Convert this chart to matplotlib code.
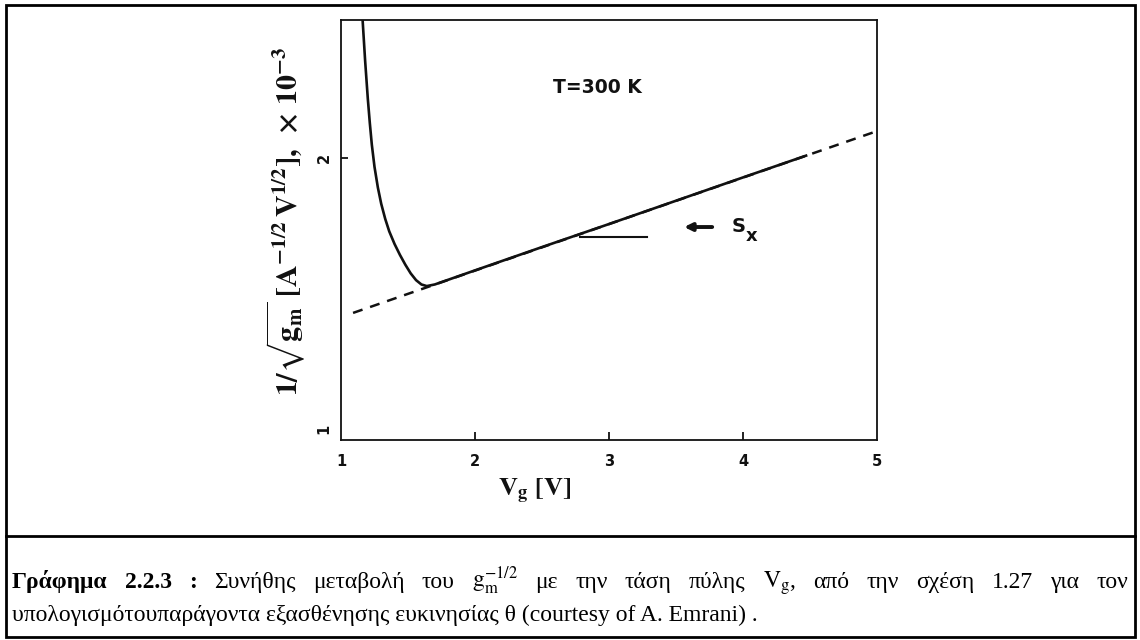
import matplotlib
matplotlib.use("Agg")
import matplotlib.pyplot as plt
from matplotlib.patches import Rectangle
from matplotlib.lines import Line2D

plt.rcParams['mathtext.fontset'] = 'stix'

# ---------------- data ----------------
vg_curve = [1.160, 1.170, 1.180, 1.190, 1.200, 1.215, 1.230, 1.250, 1.275, 1.300,
            1.330, 1.360, 1.400, 1.440, 1.480, 1.520, 1.560, 1.600, 1.640, 1.700,
            2.0, 2.5, 3.0, 3.5, 4.0, 4.48]
y_curve = [2.52, 2.44, 2.36, 2.29, 2.22, 2.13, 2.05, 1.968, 1.892, 1.832,
           1.776, 1.730, 1.683, 1.643, 1.607, 1.575, 1.550, 1.534, 1.528, 1.534,
           1.586, 1.672, 1.757, 1.843, 1.929, 2.011]
vg_fit = [1.09, 5.0]
y_fit = [1.429, 2.10]
vg_sx = [2.78, 3.28]
y_sx = [1.709, 1.709]
x_ticks = [2, 3, 4]
x_ticklabels = ['1', '2', '3', '4', '5']
x_label_pos = [1, 2, 3, 4, 5]
y_ticks = [1, 2]
y_ticklabels = ['1', '2']

caption1_bold = ['Γράφημα', '2.2.3', ':']
caption1_words = ['Συνήθης', 'μεταβολή', 'του', r'$\mathrm{g_m^{-1/2}}$', 'με', 'την',
                  'τάση', 'πύλης', r'$\mathrm{V_g}$,', 'από', 'την', 'σχέση', '1.27',
                  'για', 'τον']
caption2 = 'υπολογισμότουπαράγοντα εξασθένησης ευκινησίας θ (courtesy of A. Emrani) .'

W, H = 1140, 640
fig = plt.figure(figsize=(11.4, 6.4), dpi=100)
fig.patch.set_facecolor('white')

# ---------------- axes ----------------
ax = fig.add_axes([341 / W, 1 - 440 / H, (877 - 341) / W, (440 - 20) / H])
ax.set_xlim(1, 5)
ax.set_ylim(0.96, 2.51)
for s in ax.spines.values():
    s.set_linewidth(1.3)
    s.set_color('#111111')

ax.plot(vg_fit, y_fit, color='#111111', lw=1.8, linestyle=(0, (4, 3.2)))
ax.plot(vg_curve, y_curve, color='#111111', lw=1.9, solid_capstyle='butt',
        solid_joinstyle='round')
ax.plot(vg_sx, y_sx, color='#111111', lw=1.5)

ax.set_xticks(x_ticks)
ax.set_xticklabels([])
ax.tick_params(axis='x', direction='in', length=6, width=1.3, color='#111111')
ax.set_yticks([2])
ax.set_yticklabels([])
ax.tick_params(axis='y', direction='in', length=5, width=1.3, color='#111111')

tick_font = dict(fontfamily='DejaVu Sans', fontweight='bold', fontsize=10.5, color='#111111')
for v, lab in zip(x_label_pos, x_ticklabels):
    ax.annotate(lab, xy=(v, 0), xycoords=('data', 'axes fraction'),
                xytext=(0, -22), textcoords='offset pixels', ha='center', va='center', **tick_font)
for v, lab in zip(y_ticks, y_ticklabels):
    ax.annotate(lab, xy=(0, v), xycoords=('axes fraction', 'data'),
                xytext=(-17, 0), textcoords='offset pixels', ha='center', va='center',
                rotation=90, **tick_font)

ax.text(2.91, 2.26, 'T=300 K', ha='center', va='center', fontfamily='DejaVu Sans',
        fontweight='bold', fontsize=13.5, color='#111111')
ax.annotate('', xy=(3.56, 1.746), xytext=(3.77, 1.746),
            arrowprops=dict(arrowstyle='-|>,head_length=0.45,head_width=0.22', lw=2.8,
                            color='#111111', shrinkA=0, shrinkB=0))
ax.annotate('S', xy=(3.918, 1.748), xycoords='data', ha='left', va='center',
            fontfamily='DejaVu Sans', fontweight='bold', fontsize=14, color='#111111')
ax.annotate('x', xy=(4.02, 1.712), xycoords='data', ha='left', va='center',
            fontfamily='DejaVu Sans', fontweight='bold', fontsize=13, color='#111111')

# axis titles
fig.text(286 / W, 1 - 221 / H,
         r'$\mathbf{1/\sqrt{g_m}\ [A^{-1/2}\,V^{1/2}],\ \times\,10^{-3}}$',
         rotation=90, ha='center', va='center', fontsize=21.5, color='#111111')
fig.text(535 / W, 1 - 491 / H, r'$\mathbf{V_g\ [V]}$', ha='center', va='center',
         fontsize=19, color='#111111')

# ---------------- frame ----------------
fig.add_artist(Rectangle((6 / W, 1 - 637 / H), (1135 - 6) / W, (637 - 5) / H,
                         transform=fig.transFigure, fill=False, lw=2.0, ec='black'))
fig.add_artist(Line2D([6 / W, 1135 / W], [1 - 536 / H, 1 - 536 / H],
                      transform=fig.transFigure, lw=2.0, color='black'))

# ---------------- caption ----------------
cap_font = dict(fontfamily='Liberation Serif', fontsize=17, color='black')
renderer = fig.canvas.get_renderer()
items = [(w, 'bold') for w in caption1_bold] + [(w, 'normal') for w in caption1_words]
texts = []
for w, wt in items:
    t = fig.text(0, 0, w, fontweight=wt, ha='left', va='baseline', **cap_font)
    texts.append(t)
widths = [t.get_window_extent(renderer).width for t in texts]
x_left, x_right = 12, 1128
gap = (x_right - x_left - sum(widths)) / (len(texts) - 1)
x = x_left
for t, wd in zip(texts, widths):
    t.set_position((x / W, 1 - 588 / H))
    x += wd + gap
fig.text(12 / W, 1 - 621 / H, caption2, ha='left', va='baseline', **cap_font)

fig.savefig('out.png', dpi=100)
